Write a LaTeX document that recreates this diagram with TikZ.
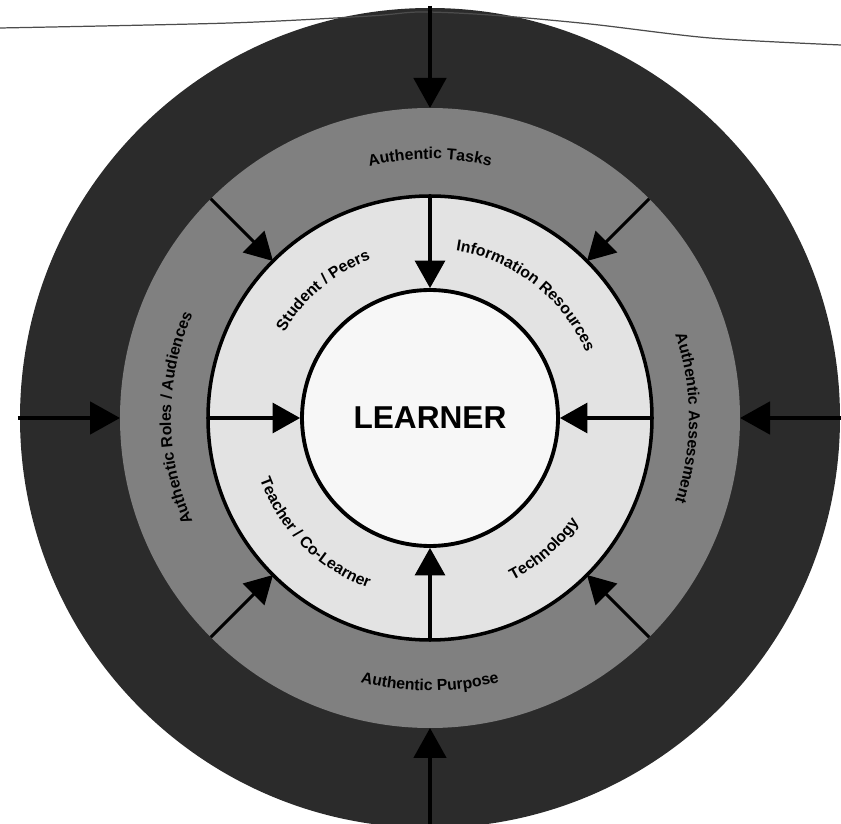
\documentclass[tikz,border=0pt]{standalone}
\usepackage{fontspec}
\setsansfont{Liberation Sans}
\usetikzlibrary{arrows.meta,decorations.text}
\definecolor{ringouter}{gray}{0.17}
\definecolor{ringmid}{gray}{0.50}
\definecolor{ringlight}{gray}{0.89}
\definecolor{ringcore}{gray}{0.97}
\newcommand\lblfmt{\sffamily\bfseries\fontsize{9}{11}\selectfont}
\begin{document}
\begin{tikzpicture}[x=0.02cm,y=0.02cm,
  radial/.style={line width=1.8pt,-{Triangle[length=0.55cm,width=0.6cm]}},
  darkradial/.style={line width=1.8pt,black,-{Triangle[length=0.6cm,width=0.65cm]}},
  lbl/.style={postaction={decorate},decoration={text along path,text align=center,text={|\lblfmt|#1}}},
  corestyle/.style={circle,draw,line width=2.2pt,fill=ringcore,minimum size=5.12cm,inner sep=0pt,
    font=\sffamily\bfseries\fontsize{18}{20}\selectfont}]
\useasboundingbox (-430,-406) rectangle (411,418);
% rings
\fill[ringouter] (0,0) circle[radius=410];
\fill[ringmid] (0,0) circle[radius=310];
\draw[fill=ringlight,line width=2pt] (0,0) circle[radius=222];
\node[corestyle] (core) at (0,0) {LEARNER};
% scan line at top
\draw[black!70,line width=0.7pt] plot[smooth] coordinates {(-430,390) (-200,395) (-60,402) (-10,406) (60,403) (160,394) (280,380) (411,373)};
% named points
\foreach \a in {0,90,180,270} {
  \coordinate (l\a) at (\a:222);
  \coordinate (g\a) at (\a:310);
  \coordinate (o\a) at (\a:412);
}
\foreach \a in {45,135,225,315} {
  \coordinate (gd\a) at (\a:310);
  \coordinate (ld\a) at (\a:222);
}
% arrows in light ring
\draw[radial] (l90) -- (core.north);
\draw[radial] (l180) -- (core.west);
\draw[radial] (l0) -- (core.east);
\draw[radial] (l270) -- (core.south);
% arrows in grey ring
\foreach \a in {45,135,225,315} \draw[radial] (gd\a) -- (ld\a);
% arrows in dark ring
\foreach \a in {0,90,180,270} \draw[darkradial] (o\a) -- (g\a);
% labels in light ring
\path[lbl={Student / Peers}] (170:169) arc[start angle=170,end angle=90,radius=169];
\path[lbl={Information Resources}] (95:169) arc[start angle=95,end angle=9,radius=169];
\path[lbl={Teacher / Co-Learner}] (175:181) arc[start angle=175,end angle=275,radius=181];
\path[lbl={Technology}] (271:182) arc[start angle=271,end angle=351,radius=182];
% labels in grey ring
\path[lbl={Authentic Tasks}] (130:259) arc[start angle=130,end angle=50,radius=259];
\path[lbl={Authentic Assessment}] (50:259) arc[start angle=50,end angle=-50,radius=259];
\path[lbl={Authentic Roles / Audiences}] (235:259) arc[start angle=235,end angle=125,radius=259];
\path[lbl={Authentic Purpose}] (220:273) arc[start angle=220,end angle=320,radius=273];
\end{tikzpicture}
\end{document}
